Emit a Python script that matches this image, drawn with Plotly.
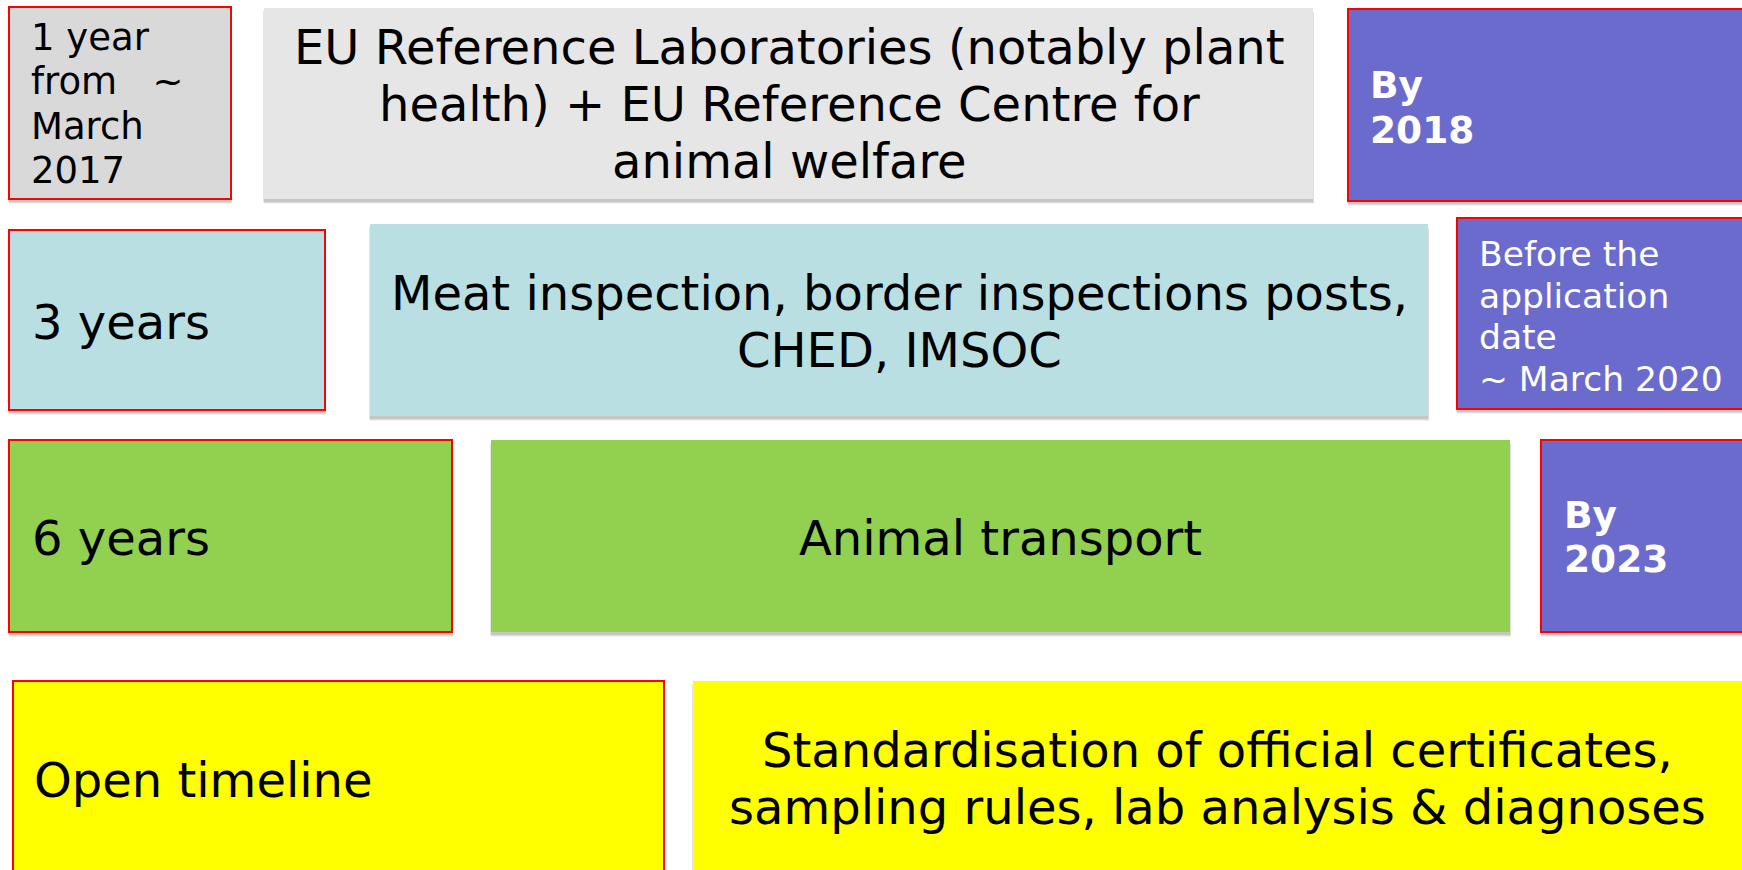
import plotly.graph_objects as go

W, H = 1742, 870
FONT = "DejaVu Sans"

# ---- text content (data) ----
label_1year = ["1 year", "from\u00a0\u00a0\u00a0~", "March", "2017"]
label_eurl = ["EU Reference Laboratories (notably plant",
              "health) + EU Reference Centre for",
              "animal welfare"]
label_by2018 = ["By", "2018"]
label_3years = ["3 years"]
label_meat = ["Meat inspection, border inspections posts,", "CHED, IMSOC"]
label_before = ["Before the", "application", "date", "~ March 2020"]
label_6years = ["6 years"]
label_transport = ["Animal transport"]
label_by2023 = ["By", "2023"]
label_open = ["Open timeline"]
label_std = ["Standardisation of official certificates,",
             "sampling rules, lab analysis & diagnoses"]

# ---- layout of the boxes (pixel geometry & styles) ----
GREY_D = "#D9D9D9"
GREY_L = "#E6E6E6"
PURPLE = "#6B6BCE"
BLUE = "#B9DFE3"
GREEN = "#92D050"
YELLOW = "#FFFF00"
RED = "#FF0000"

boxes = [
    dict(b=(9, 7, 231, 199), fill=GREY_D, border=True, lines=label_1year, align="left",
         tx=30, base=50, sp=44.5, size=37, color="black", bold=False),
    dict(b=(264, 8, 1313, 199), fill=GREY_L, border=False, lines=label_eurl, align="center",
         tx=789, base=64, sp=57, size=48, color="black", bold=False),
    dict(b=(1348, 9, 1760, 201), fill=PURPLE, border=True, lines=label_by2018, align="left",
         tx=1369, base=98, sp=45, size=37.5, color="white", bold=True),
    dict(b=(9, 230, 325, 410), fill=BLUE, border=True, lines=label_3years, align="left",
         tx=31, base=339, sp=57, size=48, color="black", bold=False),
    dict(b=(370, 224, 1428, 416), fill=BLUE, border=False, lines=label_meat, align="center",
         tx=899, base=310, sp=57, size=48, color="black", bold=False),
    dict(b=(1457, 218, 1760, 409), fill=PURPLE, border=True, lines=label_before, align="left",
         tx=1478, base=266, sp=41.5, size=34.5, color="white", bold=False),
    dict(b=(9, 440, 452, 632), fill=GREEN, border=True, lines=label_6years, align="left",
         tx=31, base=555, sp=57, size=48, color="black", bold=False),
    dict(b=(491, 440, 1510, 632), fill=GREEN, border=False, lines=label_transport, align="center",
         tx=1000, base=555, sp=57, size=48, color="black", bold=False),
    dict(b=(1541, 440, 1760, 632), fill=PURPLE, border=True, lines=label_by2023, align="left",
         tx=1563, base=528, sp=44, size=37.5, color="white", bold=True),
    dict(b=(13, 681, 664, 890), fill=YELLOW, border=True, lines=label_open, align="left",
         tx=33, base=797, sp=57, size=48, color="black", bold=False),
    dict(b=(693, 681, 1760, 890), fill=YELLOW, border=False, lines=label_std, align="center",
         tx=1217, base=767, sp=57, size=48, color="black", bold=False),
]

fig = go.Figure()
shapes = []
annotations = []

for bx in boxes:
    x0, y0, x1, y1 = bx["b"]
    # soft drop shadow
    for dx, dy, a in [(1, 5, 0.06), (1, 4, 0.08), (0, 3, 0.10)]:
        shapes.append(dict(type="rect", xref="x", yref="y",
                           x0=x0 + dx - 1, x1=x1 + dx, y0=y0 + dy, y1=y1 + dy,
                           fillcolor=f"rgba(0,0,0,{a})", line=dict(width=0), layer="below"))
for bx in boxes:
    x0, y0, x1, y1 = bx["b"]
    shapes.append(dict(type="rect", xref="x", yref="y", x0=x0, x1=x1, y0=y0, y1=y1,
                       fillcolor=bx["fill"],
                       line=dict(color=RED, width=2) if bx["border"] else dict(width=0),
                       layer="below"))
    for i, line in enumerate(bx["lines"]):
        baseline = bx["base"] + i * bx["sp"]
        yc = baseline - 0.346 * bx["size"]
        txt = f"<b>{line}</b>" if bx["bold"] else line
        annotations.append(dict(
            x=bx["tx"], y=yc, xref="x", yref="y", text=txt, showarrow=False,
            xanchor="left" if bx["align"] == "left" else "center", yanchor="middle",
            font=dict(family=FONT, size=bx["size"], color=bx["color"]),
            borderpad=0))

fig.update_layout(
    width=W, height=H,
    margin=dict(l=0, r=0, t=0, b=0),
    paper_bgcolor="white", plot_bgcolor="white",
    xaxis=dict(range=[0, W], visible=False, fixedrange=True),
    yaxis=dict(range=[H, 0], visible=False, fixedrange=True),
    shapes=shapes, annotations=annotations,
    showlegend=False,
)

fig.write_html(
    "out.html",
    config={"displayModeBar": False},
    post_script="document.body.style.margin='0';document.body.style.overflow='hidden';",
)
